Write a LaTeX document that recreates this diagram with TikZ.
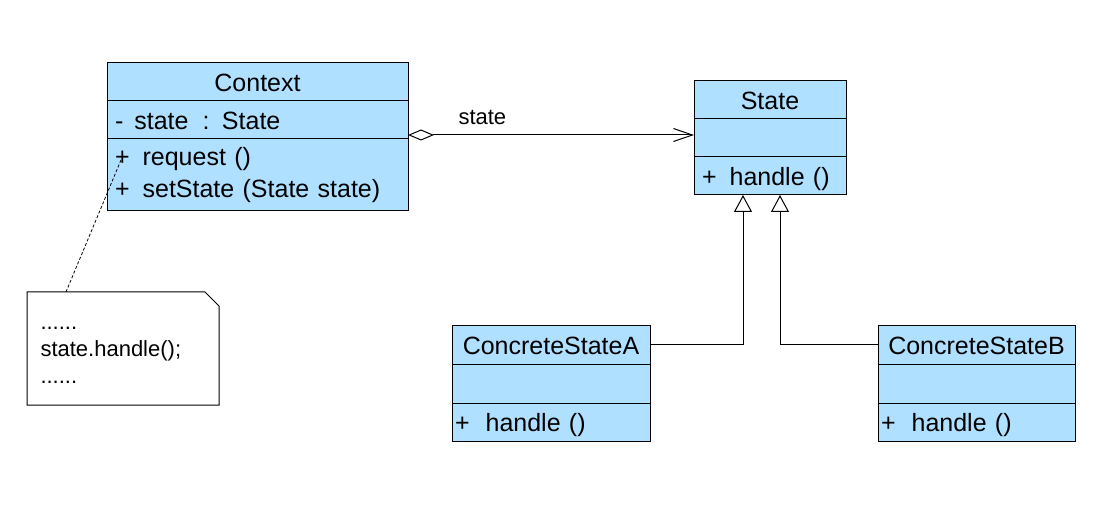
\documentclass[tikz,border=0pt]{standalone}
\usepackage{fontspec}
\setmainfont{Liberation Sans}
\usetikzlibrary{positioning}
\usetikzlibrary{arrows.meta}
\definecolor{umlblue}{RGB}{176,224,255}

\begin{document}
\begin{tikzpicture}[x=1pt, y=-1pt, line width=1pt,
    base/.style={draw, fill=umlblue, inner sep=0pt, outer sep=0pt, minimum height=38pt,
        font=\fontsize{25}{32}\selectfont},
    part/.style={base, text height=20pt, text depth=1pt},
    leftpart/.style={part, text width=#1, align=left, inner xsep=8pt},
    opsbox/.style={base, text width=#1, align=left, inner xsep=8pt},
    aggr/.style={arrows={Diamond[open,length=26pt,width=11pt]-Straight Barb[length=19pt,width=13pt]}},
    inherit/.style={arrows={-Triangle[open,length=17pt,width=18pt]}},
    notelink/.style={dash pattern=on 3pt off 2pt, line width=0.8pt}]
    \useasboundingbox (0,0) rectangle (1096,505);

    % Context
    \node[part, minimum width=301pt, anchor=north west] (ctx) at (107,63) {Context};
    \node[leftpart=285pt, below=0pt of ctx] (ctxattr) {-\hspace{11pt}state\hspace{14pt}: State};
    \node[opsbox=285pt, below=0pt of ctxattr, minimum height=72pt] (ctxops)
        {+\hspace{13pt}request ()\\+\hspace{13pt}setState (State state)};

    % State
    \node[part, minimum width=152pt, anchor=north west] (st) at (694,81) {State};
    \node[part, minimum width=152pt, below=0pt of st] (stattr) {};
    \node[leftpart=136pt, below=0pt of stattr] (stops) {+\hspace{13pt}handle ()};

    % Concrete states
    \node[part, minimum width=198pt, anchor=north west] (csa) at (452,326) {ConcreteStateA};
    \node[part, minimum width=198pt, minimum height=39pt, below=0pt of csa] (csaattr) {};
    \node[leftpart=192pt, inner xsep=3pt, below=0pt of csaattr] (csaops) {+\hspace{16pt}handle ()};

    \node[part, minimum width=197pt, anchor=north west] (csb) at (878,326) {ConcreteStateB};
    \node[part, minimum width=197pt, minimum height=39pt, below=0pt of csb] (csbattr) {};
    \node[leftpart=191pt, inner xsep=3pt, below=0pt of csbattr] (csbops) {+\hspace{16pt}handle ()};

    % Note
    \node[minimum width=191pt, minimum height=112pt, anchor=north west] (note) at (27,292) {};
    \draw (note.north west) -- ([xshift=-14pt]note.north east) -- ([yshift=-14pt]note.north east)
        -- (note.south east) -- (note.south west) -- cycle;
    \node[align=left, anchor=west, inner sep=0pt, font=\fontsize{22}{27}\selectfont] (notetext)
        at ([xshift=13pt, yshift=-7pt]note.west) {......\\state.handle();\\......};
    \coordinate (notetop) at ([xshift=39pt]note.north west);
    \coordinate (reqpt) at ([xshift=14pt,yshift=15pt]ctxops.west);
    \draw[notelink] (notetop) -- (reqpt);

    % Aggregation
    \coordinate (aggstart) at ([yshift=4pt]ctxattr.south east);
    \draw[aggr] (aggstart) -- (aggstart -| stattr.west)
        node[pos=0.26, above=10pt, inner sep=0pt, font=\fontsize{22}{26}\selectfont] (lbl) {state};

    % Generalization
    \coordinate (tipA) at ([xshift=-27pt]stops.south);
    \coordinate (tipB) at ([xshift=10pt]stops.south);
    \draw[inherit] (csa.east) -| (tipA);
    \draw[inherit] (csb.west) -| (tipB);
\end{tikzpicture}
\end{document}
